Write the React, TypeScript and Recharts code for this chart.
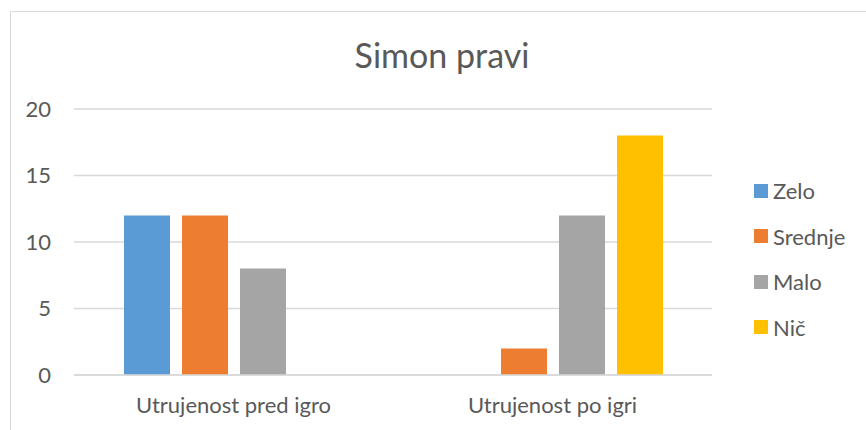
import { BarChart, Bar, XAxis, YAxis, CartesianGrid, Legend } from "recharts";

const categories = ["Utrujenost pred igro", "Utrujenost po igri"];
const seriesNames = ["Zelo", "Srednje", "Malo", "Nič"];
const zelo = [12, 0];
const srednje = [12, 2];
const malo = [8, 12];
const nic = [0, 18];
const yTicks = [0, 5, 10, 15, 20];

const COLORS = ["#5B9BD5", "#ED7D31", "#A5A5A5", "#FFC000"];
const TEXT = "#595959";
const FONT = "Lato, 'Open Sans', sans-serif";

const data = categories.map((name, i) => ({
  name,
  [seriesNames[0]]: zelo[i],
  [seriesNames[1]]: srednje[i],
  [seriesNames[2]]: malo[i],
  [seriesNames[3]]: nic[i],
}));

function renderLegend(props: any) {
  const payload = [...(props.payload ?? [])].sort(
    (a: any, b: any) => seriesNames.indexOf(a.value) - seriesNames.indexOf(b.value)
  );
  return (
    <ul style={{ listStyle: "none", margin: 0, padding: 0, fontFamily: FONT, fontSize: 22, color: TEXT }}>
      {payload.map((entry: any) => (
        <li key={entry.value} style={{ height: 45.5, display: "flex", alignItems: "center" }}>
          <span style={{ display: "inline-block", width: 14, height: 14, background: entry.color, marginRight: 5 }} />
          <span>{entry.value}</span>
        </li>
      ))}
    </ul>
  );
}

export default function App() {
  return (
    <div style={{ position: "absolute", left: 10, top: 11, width: 856, height: 419, borderLeft: "1px solid #d9d9d9", borderTop: "1px solid #d9d9d9", background: "#fff", overflow: "hidden" }}>
      <svg width={856} height={80} style={{ position: "absolute", left: 0, top: 0 }}>
        <text x={431} y={55.5} textAnchor="middle" fontFamily={FONT} fontSize={34} fill={TEXT}>
          Simon pravi
        </text>
      </svg>
      <div style={{ position: "absolute", left: -1, top: -1 }}>
        <BarChart
          width={856}
          height={419}
          data={data}
          margin={{ top: 98, right: 44, bottom: 0, left: 0 }}
          barSize={46}
          barGap={12}
        >
          <CartesianGrid vertical={false} stroke="#d9d9d9" strokeWidth={1.5} />
          <XAxis
            dataKey="name"
            height={55}
            axisLine={{ stroke: "#d9d9d9", strokeWidth: 1.5 }}
            tickLine={false}
            tickMargin={16}
            tick={{ fontSize: 22, fill: TEXT, fontFamily: FONT }}
          />
          <YAxis
            width={64}
            domain={[0, 20]}
            ticks={yTicks}
            axisLine={false}
            tickLine={false}
            tickMargin={17}
            tick={{ fontSize: 22, fill: TEXT, fontFamily: FONT }}
          />
          <Legend
            layout="vertical"
            align="right"
            verticalAlign="top"
            wrapperStyle={{ top: 157, left: 744, width: 110 }}
            content={renderLegend}
          />
          {seriesNames.map((s, i) => (
            <Bar key={s} dataKey={s} fill={COLORS[i]} isAnimationActive={false} />
          ))}
        </BarChart>
      </div>
    </div>
  );
}
